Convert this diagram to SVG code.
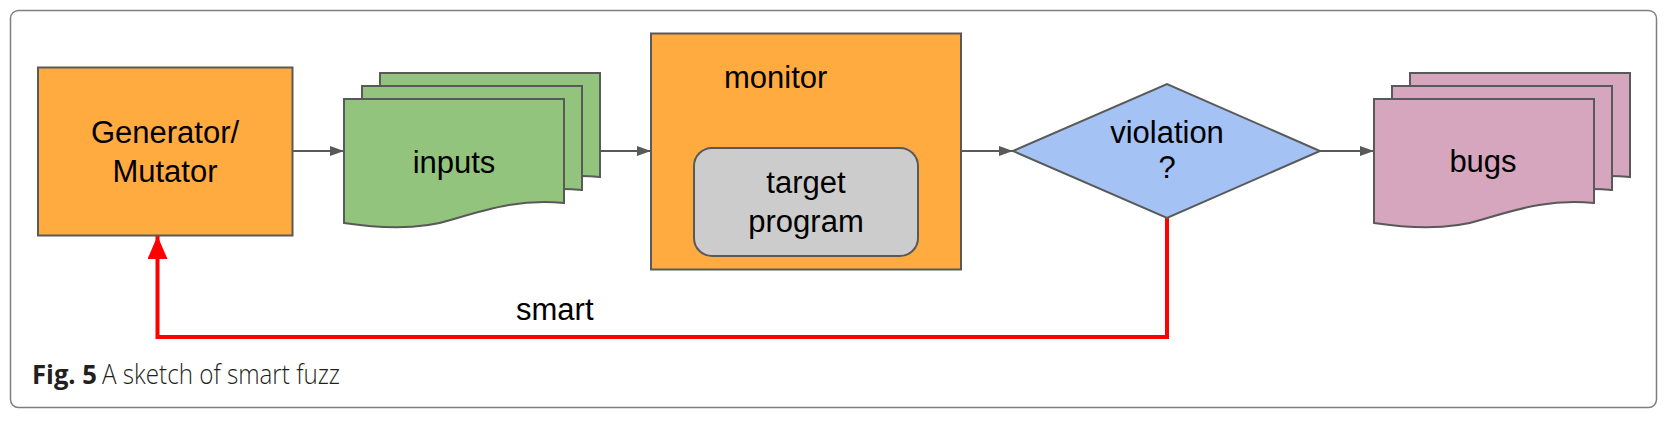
<svg xmlns="http://www.w3.org/2000/svg" width="1669" height="421" viewBox="0 0 1669 421">
<style>
.lbl{font-family:"Liberation Sans",Arial,sans-serif;font-size:31px;fill:#000}
.shape{stroke:#595959;stroke-width:2}
.conn{stroke:#595959;stroke-width:2;fill:none}
.red{stroke:#ff0000;stroke-width:4;fill:none}
.cap{font-family:"Open Sans",sans-serif;font-size:27px;fill:#231f20}
</style>
<defs>
<marker id="ah" viewBox="0 0 14 10" refX="14" refY="5" markerWidth="14" markerHeight="10" markerUnits="userSpaceOnUse" orient="auto">
<path d="M0,0 L14,5 L0,10 Z" fill="#595959"/>
</marker>
<marker id="ahr" viewBox="0 0 23 20" refX="23" refY="10" markerWidth="23" markerHeight="20" markerUnits="userSpaceOnUse" orient="auto">
<path d="M0,0 L23,10 L0,20 Z" fill="#ff0000"/>
</marker>
<path id="doc" d="M0,0 H220 V104 C180,100 150,108 110,120 C80,130 40,130 0,124 Z"/>
</defs>
<rect x="10.5" y="10.5" width="1646" height="397" rx="8" fill="#fff" stroke="#7f7f7f" stroke-width="1.5"/>

<g id="connectors">
<line class="conn" x1="293" y1="151" x2="344" y2="151" marker-end="url(#ah)"/>
<line class="conn" x1="600" y1="151" x2="651" y2="151" marker-end="url(#ah)"/>
<line class="conn" x1="961" y1="151" x2="1013" y2="151" marker-end="url(#ah)"/>
<line class="conn" x1="1320" y1="151" x2="1374" y2="151" marker-end="url(#ah)"/>
<path class="red" d="M1167,218 V337 H157.5 V236" marker-end="url(#ahr)"/>
<text class="lbl" x="516" y="320">smart</text>
</g>

<g id="generator">
<rect class="shape" x="38" y="67.5" width="254.5" height="168" fill="#ffab40"/>
<text class="lbl" x="165" y="142.5" text-anchor="middle">Generator/</text>
<text class="lbl" x="165" y="181.5" text-anchor="middle">Mutator</text>
</g>

<g id="inputs">
<use href="#doc" x="380" y="73" class="shape" fill="#93c47d"/>
<use href="#doc" x="362" y="86" class="shape" fill="#93c47d"/>
<use href="#doc" x="344" y="99" class="shape" fill="#93c47d"/>
<text class="lbl" x="454" y="172.5" text-anchor="middle">inputs</text>
</g>

<g id="monitor">
<rect class="shape" x="651" y="33.5" width="310" height="236" fill="#ffab40"/>
<text class="lbl" x="724" y="87.5">monitor</text>
</g>

<g id="target">
<rect class="shape" x="694" y="148" width="224" height="108" rx="18" fill="#cccccc"/>
<text class="lbl" x="806" y="192.5" text-anchor="middle">target</text>
<text class="lbl" x="806" y="231.5" text-anchor="middle">program</text>
</g>

<g id="violation">
<polygon class="shape" points="1013,151 1167,84 1320,151 1167,218" fill="#a4c2f4"/>
<text class="lbl" x="1167" y="143" text-anchor="middle">violation</text>
<text class="lbl" x="1167" y="178" text-anchor="middle">?</text>
</g>

<g id="bugs">
<use href="#doc" x="1410" y="73" class="shape" fill="#d5a6bd"/>
<use href="#doc" x="1392" y="86" class="shape" fill="#d5a6bd"/>
<use href="#doc" x="1374" y="99" class="shape" fill="#d5a6bd"/>
<text class="lbl" x="1483" y="172" text-anchor="middle">bugs</text>
</g>

<g id="caption">
<text class="cap" x="32" y="384"><tspan font-weight="bold" textLength="65" lengthAdjust="spacingAndGlyphs">Fig. 5</tspan><tspan x="102" font-weight="300" textLength="238" lengthAdjust="spacingAndGlyphs">A sketch of smart fuzz</tspan></text>
</g>
</svg>
